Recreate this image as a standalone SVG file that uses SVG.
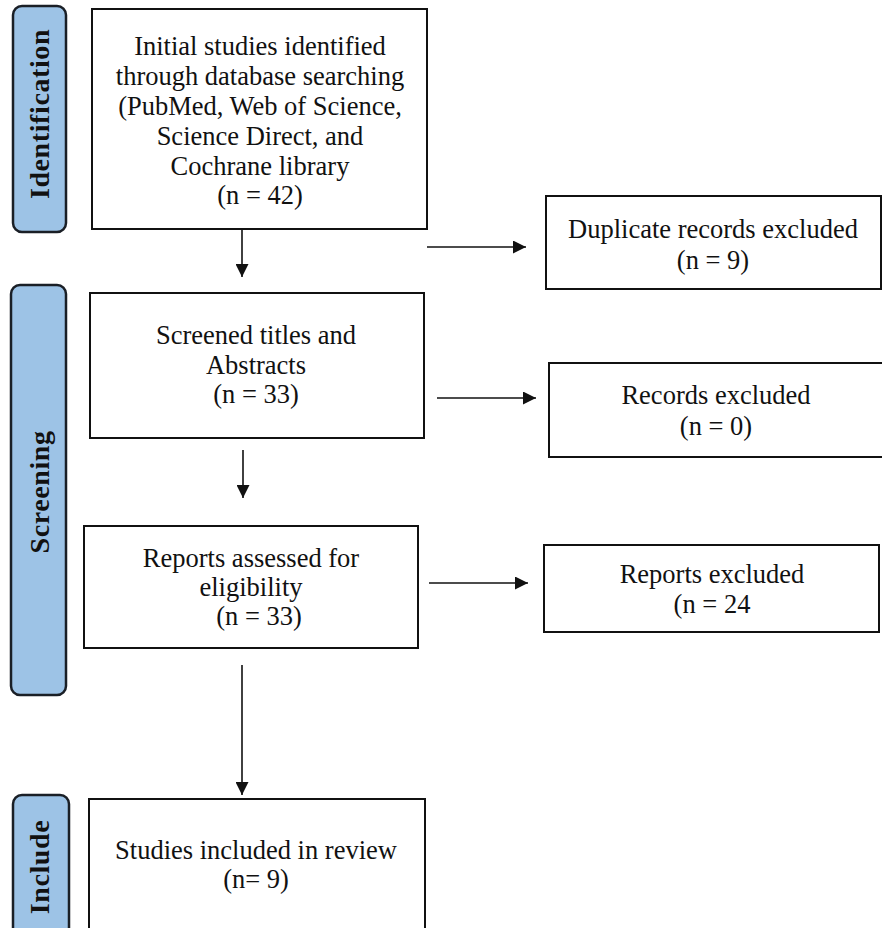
<svg xmlns="http://www.w3.org/2000/svg" width="882" height="928" viewBox="0 0 882 928">
<defs>
<marker id="ah" viewBox="0 0 10 10" refX="10" refY="5" markerWidth="13" markerHeight="13" markerUnits="userSpaceOnUse" orient="auto">
<path d="M0,0 L10,5 L0,10 z" fill="#111"/>
</marker>
<style>
.box{fill:#fff;stroke:#111;stroke-width:2}
.pill{fill:#9DC3E6;stroke:#1a1f26;stroke-width:2.5}
.t{font-family:"Liberation Serif","Times New Roman",serif;font-size:26.5px;fill:#111;text-anchor:middle}
.lab{font-family:"Liberation Serif","Times New Roman",serif;font-size:28px;font-weight:bold;fill:#111;text-anchor:middle;letter-spacing:0.6px}
.c{stroke:#111;stroke-width:1.6;fill:none;marker-end:url(#ah)}
</style>
</defs>
<rect width="882" height="928" fill="#fff"/>
<g id="stage-identification">
<rect class="pill" x="13" y="6" width="53" height="226" rx="9"/>
<text class="lab" transform="translate(49,114) rotate(-90)">Identification</text>
</g>
<g id="stage-screening">
<rect class="pill" x="11" y="285" width="55" height="410" rx="9"/>
<text class="lab" transform="translate(49,492) rotate(-90)">Screening</text>
</g>
<g id="stage-include">
<rect class="pill" x="13" y="795" width="56" height="145" rx="9"/>
<text class="lab" transform="translate(49,867) rotate(-90)">Include</text>
</g>
<g id="initial">
<rect class="box" x="92" y="9" width="335" height="220"/>
<text class="t" x="260" y="55">Initial studies identified</text>
<text class="t" x="260" y="85">through database searching</text>
<text class="t" x="260" y="115">(PubMed, Web of Science,</text>
<text class="t" x="260" y="145">Science Direct, and</text>
<text class="t" x="260" y="175">Cochrane library</text>
<text class="t" x="260" y="204">(n = 42)</text>
</g>
<g id="duplicates">
<rect class="box" x="546" y="196" width="335" height="93"/>
<text class="t" x="713" y="238">Duplicate records excluded</text>
<text class="t" x="713" y="269">(n = 9)</text>
</g>
<g id="screened">
<rect class="box" x="90" y="293" width="334" height="145"/>
<text class="t" x="256" y="344">Screened titles and</text>
<text class="t" x="256" y="374">Abstracts</text>
<text class="t" x="256" y="403">(n = 33)</text>
</g>
<g id="records-excluded">
<rect class="box" x="549" y="363" width="334" height="94"/>
<text class="t" x="716" y="404">Records excluded</text>
<text class="t" x="716" y="435">(n = 0)</text>
</g>
<g id="reports">
<rect class="box" x="84" y="526" width="334" height="122"/>
<text class="t" x="251" y="567">Reports assessed for</text>
<text class="t" x="251" y="596">eligibility</text>
<text class="t" x="259" y="625">(n = 33)</text>
</g>
<g id="reports-excluded">
<rect class="box" x="544" y="545" width="335" height="87"/>
<text class="t" x="712" y="583">Reports excluded</text>
<text class="t" x="712" y="613">(n = 24</text>
</g>
<g id="included">
<rect class="box" x="89" y="799" width="336" height="140"/>
<text class="t" x="256" y="859">Studies included in review</text>
<text class="t" x="256" y="888">(n= 9)</text>
</g>
<g id="connectors">
<line class="c" x1="242" y1="229" x2="242" y2="277"/>
<line class="c" x1="427" y1="247" x2="526" y2="247"/>
<line class="c" x1="243" y1="450" x2="243" y2="498"/>
<line class="c" x1="437" y1="398" x2="536" y2="398"/>
<line class="c" x1="429" y1="583" x2="528" y2="583"/>
<line class="c" x1="242" y1="665" x2="242" y2="795"/>
</g>
</svg>
